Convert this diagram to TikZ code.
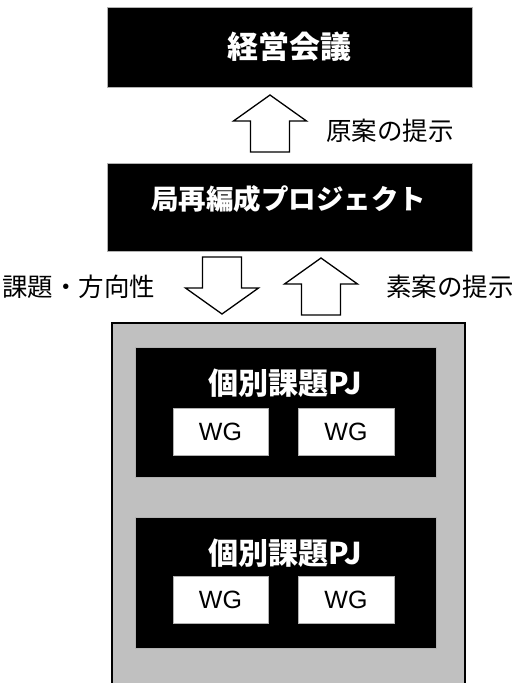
\documentclass[tikz,border=0pt]{standalone}
\usepackage{fontspec}
\newfontfamily\cjk{Noto Sans CJK JP}
\newfontfamily\latinsans{Liberation Sans}
\tikzset{
  blackbox/.style={fill=black,draw=gray!60,line width=0.8pt},
  wgbox/.style={fill=white,draw=gray!60,line width=0.6pt,font=\latinsans\fontsize{25}{25}\selectfont,text=black},
  headtext/.style={text=white,inner sep=0pt},
  labeltext/.style={inner sep=0pt,anchor=west,font=\cjk\fontsize{25.5}{26}\selectfont},
  arrowline/.style={draw=black,fill=white,line width=1.3pt,line join=miter},
  uparr/.pic={\path[arrowline] (0,0) -- (36.5,26) -- (19.5,26) -- (19.5,57) -- (-19.5,57) -- (-19.5,26) -- (-36.5,26) -- cycle;}
}
\begin{document}
\begin{tikzpicture}[x=1pt,y=-1pt]
\clip (0,0) rectangle (520,683);
\fill[white] (0,0) rectangle (520,683);
% top boxes
\path[blackbox] (107,7) rectangle (472,87);
\coordinate (keieiC) at (289.5,47);
\node[headtext,font=\cjk\bfseries\fontsize{31}{31}\selectfont] (keiei) at (keieiC) {経営会議};
\path[blackbox] (107,163) rectangle (472,251);
\coordinate (projC) at (288.5,199);
\node[headtext,font=\cjk\bfseries\fontsize{27.5}{28}\selectfont] (proj) at (projC) {局再編成プロジェクト};
% gray container
\path[fill={rgb,255:red,192;green,192;blue,192},draw=black,line width=1.5pt] (112,323) rectangle (465,700);
% PJ boxes
\path[blackbox] (135,347) rectangle (436,477);
\node[headtext,font=\cjk\bfseries\fontsize{30}{30}\selectfont] (pj1) at (285,383) {個別課題PJ};
\node[wgbox,minimum width=95pt,minimum height=47pt] (wg11) at (220.5,431.5) {WG};
\node[wgbox,minimum width=96pt,minimum height=47pt] (wg12) at (346,431.5) {WG};
\path[blackbox] (135,517) rectangle (436,648);
\node[headtext,font=\cjk\bfseries\fontsize{30}{30}\selectfont] (pj2) at (285,553) {個別課題PJ};
\node[wgbox,minimum width=95pt,minimum height=47pt] (wg21) at (220.5,599.5) {WG};
\node[wgbox,minimum width=96pt,minimum height=47pt] (wg22) at (346,599.5) {WG};
% arrows
\coordinate (a1) at (270,95);
\pic at (a1) {uparr};
\coordinate (a2) at (321,258);
\pic at (a2) {uparr};
\coordinate (a3) at (222,314);
\pic[rotate=180] at (a3) {uparr};
% labels
\node[labeltext] (l1) at (326,131) {原案の提示};
\node[labeltext] (l2) at (2,287) {課題・方向性};
\node[labeltext] (l3) at (386,287) {素案の提示};
\end{tikzpicture}
\end{document}
